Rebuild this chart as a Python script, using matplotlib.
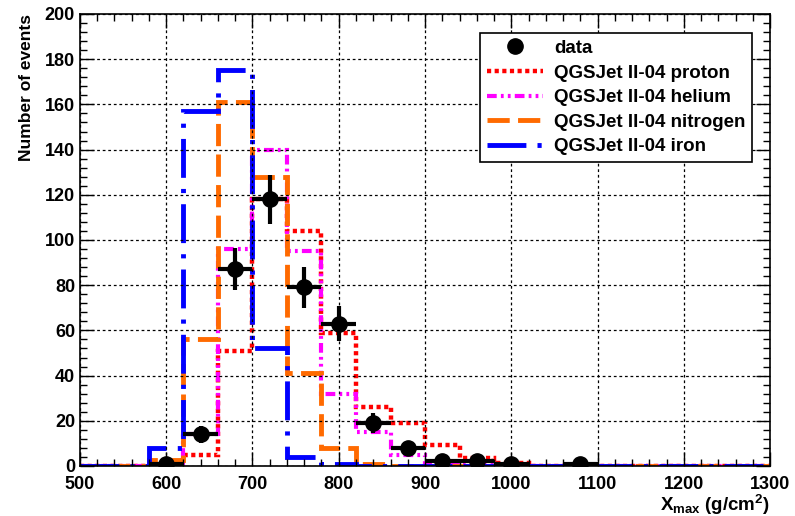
import numpy as np
import matplotlib
matplotlib.use("Agg")
import matplotlib.pyplot as plt
from matplotlib.ticker import MultipleLocator
from matplotlib.lines import Line2D

plt.rcParams['font.family'] = ['Liberation Sans', 'DejaVu Sans']
plt.rcParams['font.weight'] = 'bold'
plt.rcParams['mathtext.default'] = 'regular'
plt.rcParams['lines.scale_dashes'] = False

# bin edges (g/cm2), 40 wide
edges = np.arange(500, 1301, 40)

# simulated histograms, one value per bin (500-540, 540-580, ...)
proton = [0, 0, 0, 5, 51, 118, 104, 59, 26, 19, 9.5, 3.5, 1.5, 0, 0, 0, 0, 0, 0, 0]
helium = [0, 0, 0, 14, 96, 140, 95, 32, 15, 5, 1, 0.5, 0.5, 0, 0, 0, 0, 0, 0, 0]
nitrogen = [0, 0, 2.5, 56, 161, 128, 41, 8, 1, 0, 0, 0, 0, 0, 0, 0, 0, 0, 0, 0]
iron = [0, 0, 8, 157, 175, 52, 4, 1, 0, 0, 0, 0, 0, 0, 0, 0, 0, 0, 0, 0]

# measured data
data_x = [600, 640, 680, 720, 760, 800, 840, 880, 920, 960, 1000, 1080]
data_y = [1, 14, 87, 118, 79, 63, 19, 8, 2, 2, 1, 1]
data_err = [1, 3.7, 9.3, 10.9, 8.9, 7.9, 4.4, 2.8, 1.4, 1.4, 1, 1]

fig = plt.figure(figsize=(7.95, 5.16), dpi=100)
ax = fig.add_axes([0.1006, 0.0969, 0.868, 0.876])

ax.stairs(proton, edges, color='#ff0000', lw=3.2, linestyle=(0, (3, 2.5)),
          label='QGSJet II-04 proton', baseline=None)
ax.stairs(helium, edges, color='#ff00ff', lw=3.0, linestyle=(0, (7, 3, 2, 3, 2, 3)),
          label='QGSJet II-04 helium', baseline=None)
ax.stairs(nitrogen, edges, color='#ff6a00', lw=3.5, linestyle=(0, (16, 6)),
          label='QGSJet II-04 nitrogen', baseline=None)
ax.stairs(iron, edges, color='#0000ff', lw=3.5, linestyle=(0, (28, 8, 3, 8)),
          label='QGSJet II-04 iron', baseline=None)

ax.errorbar(data_x, data_y, xerr=20, yerr=data_err, fmt='o', color='black',
            ms=11, elinewidth=3, capsize=0, zorder=5)

ax.set_xlim(500, 1300)
ax.set_ylim(0, 200)
ax.xaxis.set_major_locator(MultipleLocator(100))
ax.xaxis.set_minor_locator(MultipleLocator(20))
ax.yaxis.set_major_locator(MultipleLocator(20))
ax.yaxis.set_minor_locator(MultipleLocator(4))
ax.tick_params(which='both', direction='in', top=True, right=True, labelsize=13, width=1)
ax.tick_params(axis='x', pad=7)
ax.tick_params(which='major', length=10)
ax.tick_params(which='minor', length=5)
ax.grid(True, which='major', color='black', linestyle=(0, (2, 2)), lw=0.9)
for s in ax.spines.values():
    s.set_linewidth(1.2)

ax.set_ylabel('Number of events', fontsize=12.5, fontweight='bold', loc='top', labelpad=8)
ax.set_xlabel(r'X$_{max}$ (g/cm$^{2}$)', fontsize=13.5, fontweight='bold', loc='right', labelpad=0)

h, l = ax.get_legend_handles_labels()
data_handle = Line2D([], [], marker='o', ls='none', color='black', ms=11)
leg = ax.legend([data_handle] + h, ['data'] + l, loc='upper right',
                bbox_to_anchor=(0.988, 0.978), fontsize=13.5, handlelength=3.0,
                handletextpad=0.6, fancybox=False, framealpha=1, edgecolor='black',
                borderpad=0.35, labelspacing=0.4)
leg.get_frame().set_linewidth(1.2)

plt.savefig("out.png", dpi=100)
